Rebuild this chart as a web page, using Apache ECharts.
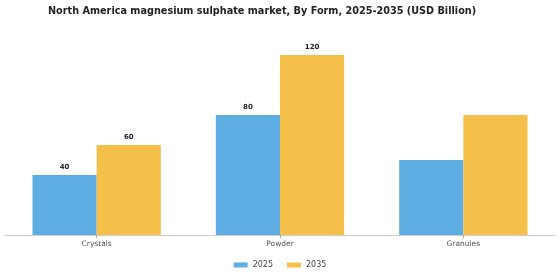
<!DOCTYPE html>
<html><head><meta charset="utf-8">
<script src="https://cdn.jsdelivr.net/npm/echarts@6/dist/echarts.min.js"></script>
<style>html,body{margin:0;padding:0;background:#fff}#c{width:560px;height:280px}</style>
</head><body><div id="c"></div>
<script>
const categories = ['Crystals', 'Powder', 'Granules'];
const seriesNames = ['2025', '2035'];
const values2025 = [40, 80, 50];
const values2035 = [60, 120, 80];
const showLabel2025 = [true, true, false];
const showLabel2035 = [true, true, false];

const chart = echarts.init(document.getElementById('c'));
function mk(vals, flags){
  return vals.map((v,i)=>({value:v,label:{show:flags[i]}}));
}
const lbl = {show:true, position:'top', fontSize:7, fontWeight:'bold', color:'#222', fontFamily:'DejaVu Sans', distance:4};
chart.setOption({
  animation:false,
  title:{text:'North America magnesium sulphate market, By Form, 2025-2035 (USD Billion)', left:43, top:1,
    textStyle:{fontFamily:'DejaVu Sans', fontWeight:'bold', fontSize:9.7, color:'#222'}},
  legend:{data:seriesNames, bottom:6, left:'center', itemWidth:14, itemHeight:5, itemGap:14,
    icon:'rect', textStyle:{fontFamily:'DejaVu Sans', fontSize:8, color:'#444'}},
  grid:{left:5, right:5, top:25, bottom:45, containLabel:false},
  xAxis:{type:'category', data:categories,
    axisLine:{lineStyle:{color:'#ccc'}}, axisTick:{show:true, alignWithLabel:true, length:3, lineStyle:{color:'#aaa'}},
    axisLabel:{fontFamily:'DejaVu Sans', fontSize:7.5, color:'#555', margin:5}},
  yAxis:{type:'value', min:0, max:140, show:false, splitLine:{show:false}},
  series:[
    {name:seriesNames[0], type:'bar', data:mk(values2025, showLabel2025), itemStyle:{color:'#5DADE2'}, barGap:'0%', barCategoryGap:'30%', label:lbl},
    {name:seriesNames[1], type:'bar', data:mk(values2035, showLabel2035), itemStyle:{color:'#F5C04A'}, barGap:'0%', barCategoryGap:'30%', label:lbl}
  ]
});
</script></body></html>
